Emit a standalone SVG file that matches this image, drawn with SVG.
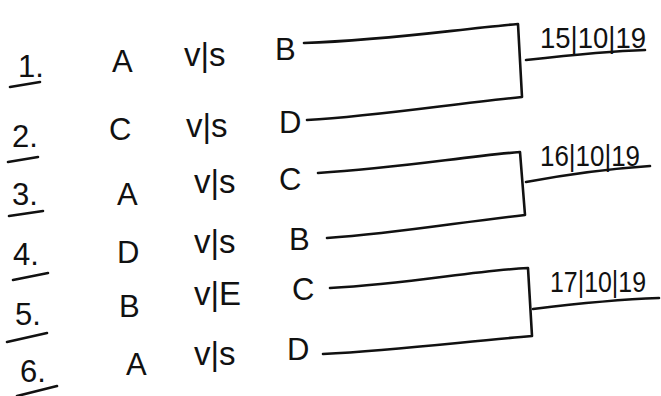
<svg xmlns="http://www.w3.org/2000/svg" width="661" height="396" viewBox="0 0 661 396">
<style>
text{font-family:"Liberation Sans","DejaVu Sans",sans-serif;fill:#111;font-size:31px}
.v{font-size:33px}
.d{font-size:29px}
.ln{fill:none;stroke:#111;stroke-width:2.6;stroke-linecap:round;stroke-linejoin:round}
</style>
<rect width="661" height="396" fill="#fff"/>
<g id="row1"><text x="18" y="77">1.</text><path class="ln" d="M10 87 L40 82"/><text x="112" y="72">A</text><text class="v" x="184" y="66">v|s</text><text x="275" y="60">B</text></g>
<g id="row2"><text x="12" y="147">2.</text><path class="ln" d="M8 162 L38 157"/><text x="109" y="140">C</text><text class="v" x="186" y="137">v|s</text><text x="279" y="133">D</text></g>
<g id="row3"><text x="12" y="205">3.</text><path class="ln" d="M9 216 L43 211"/><text x="117" y="205">A</text><text class="v" x="194" y="193">v|s</text><text x="279" y="190">C</text></g>
<g id="row4"><text x="13" y="265">4.</text><path class="ln" d="M13 280 L48 273"/><text x="117" y="263">D</text><text class="v" x="194" y="253">v|s</text><text x="289" y="250">B</text></g>
<g id="row5"><text x="15" y="325">5.</text><path class="ln" d="M7 342 L47 333"/><text x="119" y="317">B</text><text class="v" x="194" y="305">v|E</text><text x="292" y="300">C</text></g>
<g id="row6"><text x="20" y="382">6.</text><path class="ln" d="M17 396 L57 386"/><text x="126" y="375">A</text><text class="v" x="194" y="365">v|s</text><text x="287" y="360">D</text></g>
<g id="dates">
<text class="d" x="540" y="48" textLength="106" lengthAdjust="spacingAndGlyphs">15|10|19</text>
<text class="d" x="540" y="166" textLength="100" lengthAdjust="spacingAndGlyphs">16|10|19</text>
<text class="d" x="550" y="292" textLength="96" lengthAdjust="spacingAndGlyphs">17|10|19</text>
</g>
<g id="connectors">
<path class="ln" d="M304 43 C390 40 450 30 518 24 L522 97 C450 104 380 116 307 120"/>
<path class="ln" d="M526 60 C580 54 610 51 645 50"/>
<path class="ln" d="M318 173 C400 168 460 157 520 152 L525 215 C460 222 400 233 327 238"/>
<path class="ln" d="M526 182 C580 172 620 168 650 166"/>
<path class="ln" d="M330 288 C410 284 470 271 528 268 L532 336 C460 342 400 350 323 354"/>
<path class="ln" d="M533 309 C590 302 630 299 659 298"/>
</g>
</svg>
